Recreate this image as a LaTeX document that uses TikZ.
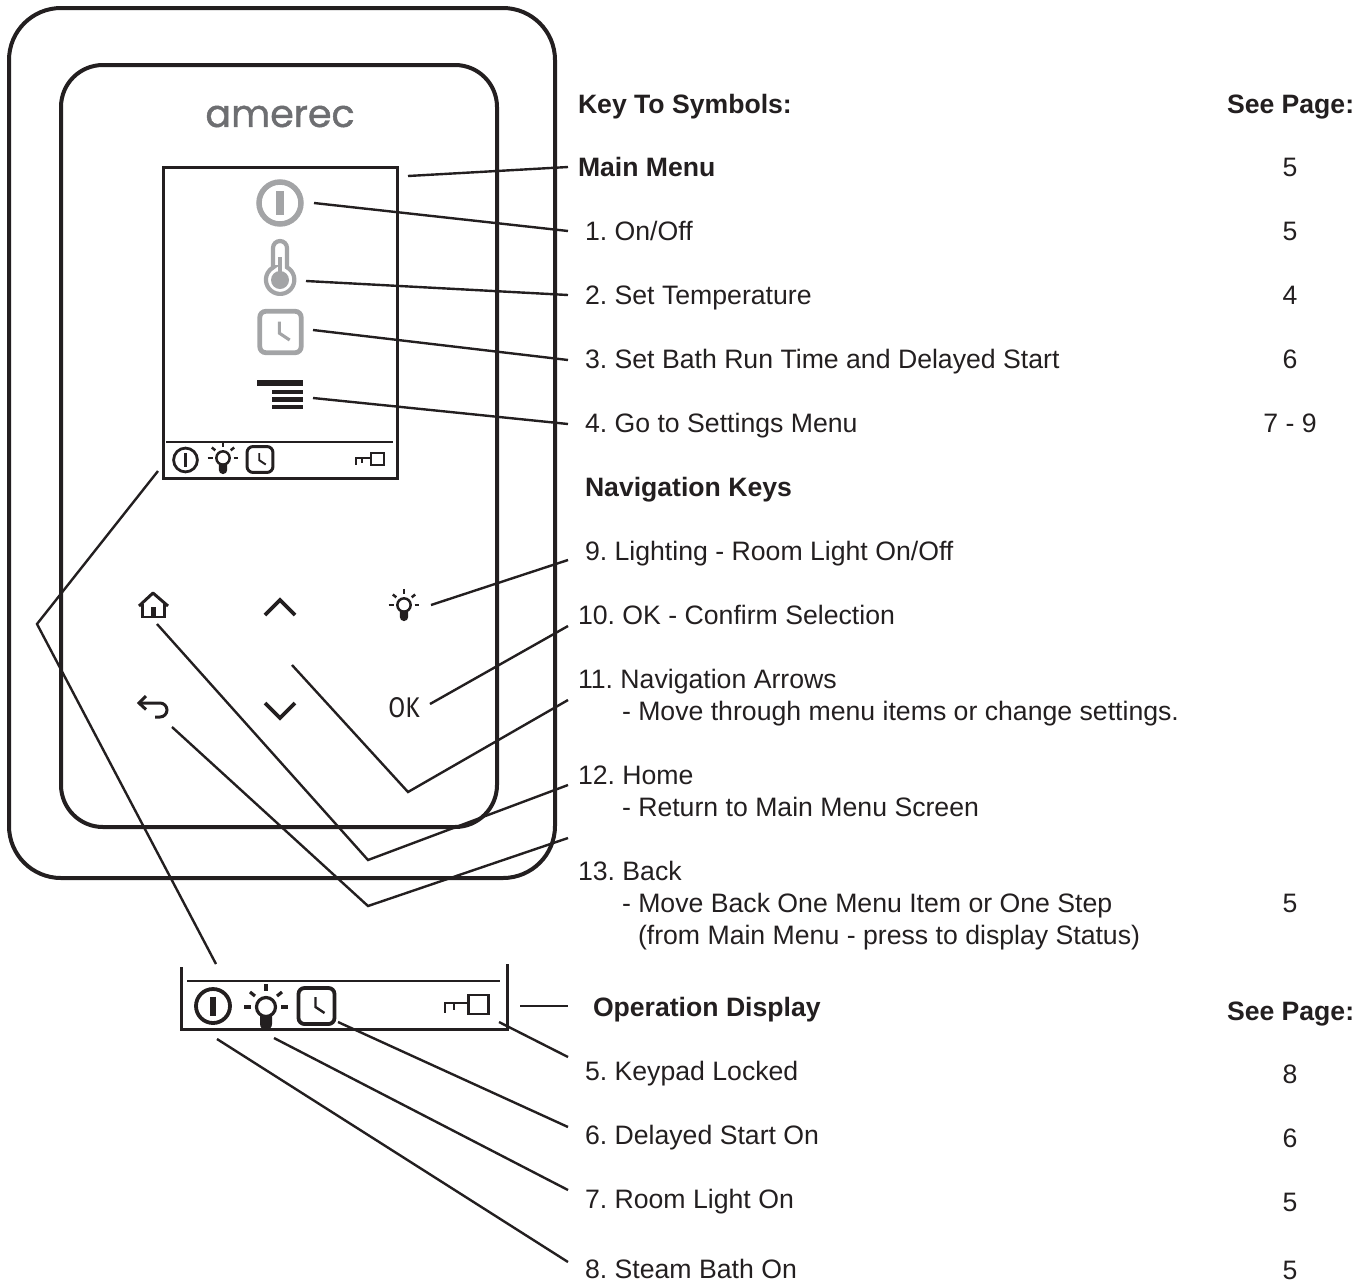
\documentclass[tikz,border=0pt]{standalone}
\usepackage{fontspec}
\setmainfont{Liberation Sans}
\newfontfamily\logofont[FakeBold=1.2]{Poppins}
\newfontfamily\okfont[FakeStretch=.86]{Fira Sans}
\usetikzlibrary{positioning}
\definecolor{ink}{HTML}{231F20}
\definecolor{icongrey}{HTML}{A3A4A6}
\definecolor{logogrey}{HTML}{6D6E71}
\tikzset{item text/.style={font=\fontsize{26.65}{32}\selectfont\frenchspacing,text=ink,inner sep=0pt,outer sep=0pt,text height=19pt,text depth=0pt,anchor=west},
    head text/.style={item text,font=\fontsize{26.6}{32}\selectfont\bfseries},
    page text/.style={item text,anchor=center},
    next item/.style={below=45pt of #1.south west,anchor=north west},
    sub item/.style={below=13pt of #1.south west,anchor=north west},
    leader/.style={draw=ink,line width=2.4pt},
    panel/.style={draw=ink,line width=4pt},
    frame/.style={draw=ink,line width=3pt},
    divider/.style={draw=ink,line width=1.2pt},
    pics/power icon/.style={code={
        \draw (0,0) circle (17);
        \draw[line width=1.15\pgflinewidth] (0,-9.5) -- (0,9.5);}},
    pics/clock icon/.style={code={
        \draw[rounded corners=6pt] (-18,-18) rectangle (18,18);
        \draw[line width=.8\pgflinewidth] (-1,-9) -- (-1,1) -- (8,7);}},
    pics/bulb icon/.style={code={
        \draw (0,0) circle (9.5);
        \draw (-22,0) -- (-15,0) (15,0) -- (22,0) (0,-23) -- (0,-16);
        \draw (-16,-15) -- (-11,-11) (16,-15) -- (11,-11);
        \fill (-6,8) -- (6,8) -- (6,17) arc[start angle=0,end angle=180,radius=6] -- cycle;}},
    pics/key icon/.style={code={
        \draw (-10,-9.5) rectangle (10,9.5);
        \draw (-10,-1.5) -- (-33.5,-1.5) -- (-33.5,8.5) (-24.5,-1.5) -- (-24.5,5.5);}},
}
\begin{document}
\begin{tikzpicture}[x=1pt,y=-1pt,color=ink]
    \useasboundingbox (0,0) rectangle (1370,1283);

    \draw[panel] (9,8) [rounded corners=52pt] rectangle (555,878);
    \draw[panel] (61,65) [rounded corners=42pt] rectangle (497,827);
    \draw[frame] (163,167) rectangle (397,478);
    \draw[divider] (166,442) -- (393,442);
    \node[font=\logofont\fontsize{38}{38}\selectfont,text=logogrey,inner sep=0pt] (logo) at (280,116.5) {amerec};

    \pic[color=icongrey,line width=5.5pt,scale=1.235] at (280,203) {power icon};
    \draw[icongrey,line width=4.2pt,fill=white] (273,267.3) -- (273,248) arc[start angle=180,end angle=360,radius=7]
        -- (287,267.3) arc[start angle=-61.1,end angle=241.1,radius=14.2] -- cycle;
    \fill[icongrey] (280,280) circle (9);
    \draw[icongrey,line width=4pt] (280,257) -- (280,280);
    \pic[color=icongrey,line width=4.8pt,scale=1.15] at (280.5,332) {clock icon};
    \fill[ink] (257,380) rectangle (303,385.5);
    \fill[ink] (272,389.5) rectangle (303,394);
    \fill[ink] (272,397) rectangle (303,401.5);
    \fill[ink] (272,404.5) rectangle (303,408.5);

    \pic[line width=2.8pt,scale=.7] at (185.5,460) {power icon};
    \pic[line width=2.5pt,scale=.7] at (223,458) {bulb icon};
    \pic[line width=3pt,scale=.72] at (260,459.5) {clock icon};
    \pic[line width=2pt,scale=.65] at (377.5,459) {key icon};

    \draw[line width=3pt,line join=round] (139,606) -- (153,593) -- (168,606);
    \draw[line width=2.8pt] (142.5,604) -- (142.5,617) -- (164.5,617) -- (164.5,604);
    \fill (150.5,607) rectangle (156,617);
    \draw[line width=3.8pt] (265,615) -- (280,600) -- (295,615);
    \draw[line width=3.8pt] (265,703) -- (280,718) -- (295,703);
    \pic[line width=2.5pt,scale=.7] at (404,605) {bulb icon};
    \draw[line width=3pt] (146,696) -- (139,703) -- (146,709.5);
    \draw[line width=3pt] (139,703) -- (160,703) arc[start angle=270,end angle=450,radius=7] -- (155,717);
    \node[font=\okfont\fontsize{28.5}{28}\selectfont,text=ink,inner sep=0pt] (okglyph) at (404,707.5) {OK};

    \draw[frame] (181,967) -- (181,1029) -- (507,1029) -- (507,964);
    \draw[divider] (187,981) -- (500,981);
    \pic[line width=3.8pt] at (213,1006) {power icon};
    \pic[line width=3.2pt] at (266,1007) {bulb icon};
    \pic[line width=3.8pt] at (316.5,1006) {clock icon};
    \pic[line width=2.8pt] at (478.5,1004.5) {key icon};

    \node[head text] (keytitle) at (578,104) {Key To Symbols:};
    \node[head text] (mainmenu) at (578,167) {Main Menu};
    \node[item text,next item=mainmenu,xshift=7pt] (onoff) {1. On/Off};
    \node[item text,next item=onoff] (settemp) {2. Set Temperature};
    \node[item text,next item=settemp] (settime) {3. Set Bath Run Time and Delayed Start};
    \node[item text,next item=settime] (settings) {4. Go to Settings Menu};
    \node[head text,next item=settings] (navkeys) {Navigation Keys};
    \node[item text,next item=navkeys] (lighting) {9. Lighting - Room Light On/Off};
    \node[item text,next item=lighting,xshift=-7pt] (okkey) {10. OK - Confirm Selection};
    \node[item text,next item=okkey] (arrows) {11. Navigation Arrows};
    \node[item text,sub item=arrows,xshift=44pt] (arrowsub) {- Move through menu items or change settings.};
    \node[item text,next item=arrowsub,xshift=-44pt] (home) {12. Home};
    \node[item text,sub item=home,xshift=44pt] (homesub) {- Return to Main Menu Screen};
    \node[item text,next item=homesub,xshift=-44pt] (back) {13. Back};
    \node[item text,sub item=back,xshift=44pt] (backsub) {- Move Back One Menu Item or One Step};
    \node[item text,sub item=backsub,xshift=16pt] (backnote) {(from Main Menu - press to display Status)};
    \node[head text] (opdisplay) at (593,1007) {Operation Display};
    \node[item text] (locked) at (585,1071) {5. Keypad Locked};
    \node[item text,next item=locked] (delayed) {6. Delayed Start On};
    \node[item text,next item=delayed] (roomlight) {7. Room Light On};
    \node[item text] (steam) at (585,1269) {8. Steam Bath On};

    \node[head text] (seepage) at (1227,104) {See Page:};
    \node[head text] (seepagetwo) at (1227,1011) {See Page:};
    \node[page text] (p1) at (1290,167) {5};
    \node[page text] (p2) at (1290,231) {5};
    \node[page text] (p3) at (1290,295) {4};
    \node[page text] (p4) at (1290,359) {6};
    \node[page text] (p5) at (1290,423) {7 - 9};
    \node[page text] (p6) at (1290,903) {5};
    \node[page text] (p7) at (1290,1074) {8};
    \node[page text] (p8) at (1290,1138) {6};
    \node[page text] (p9) at (1290,1202) {5};
    \node[page text] (p10) at (1290,1269.5) {5};

    \coordinate (m0) at (408,176);    \coordinate (m1) at (568,167);
    \coordinate (a0) at (314,203);    \coordinate (a1) at (568,231);
    \coordinate (b0) at (306,281);    \coordinate (b1) at (568,295);
    \coordinate (c0) at (313,330);    \coordinate (c1) at (568,360);
    \coordinate (d0) at (313,398);    \coordinate (d1) at (568,424);
    \coordinate (e0) at (431,605);    \coordinate (e1) at (568,560);
    \coordinate (f0) at (430,704);    \coordinate (f1) at (568,626);
    \coordinate (g0) at (292,665);    \coordinate (g1) at (408,792);    \coordinate (g2) at (568,700);
    \coordinate (h0) at (157,624);    \coordinate (h1) at (368,860);    \coordinate (h2) at (568,785);
    \coordinate (i0) at (172,727);    \coordinate (i1) at (368,906);    \coordinate (i2) at (568,838);
    \coordinate (j0) at (158,471);    \coordinate (j1) at (37,624);     \coordinate (j2) at (216,964);
    \coordinate (k0) at (520,1006);   \coordinate (k1) at (568,1006);
    \coordinate (l0) at (499,1022);   \coordinate (l1) at (568,1057);
    \coordinate (n0) at (338,1022);   \coordinate (n1) at (568,1127);
    \coordinate (o0) at (274,1038);   \coordinate (o1) at (568,1190);
    \coordinate (q0) at (217,1039);   \coordinate (q1) at (568,1262);

    \path[leader]
    (m0) edge node {} (m1)
    (a0) edge node {} (a1)
    (b0) edge node {} (b1)
    (c0) edge node {} (c1)
    (d0) edge node {} (d1)
    (e0) edge node {} (e1)
    (f0) edge node {} (f1)
    (k0) edge node {} (k1)
    (l0) edge node {} (l1)
    (n0) edge node {} (n1)
    (o0) edge node {} (o1)
    (q0) edge node {} (q1);
    \draw[leader] (g0) -- (g1) -- (g2);
    \draw[leader] (h0) -- (h1) -- (h2);
    \draw[leader] (i0) -- (i1) -- (i2);
    \draw[leader] (j0) -- (j1) -- (j2);
\end{tikzpicture}
\end{document}
